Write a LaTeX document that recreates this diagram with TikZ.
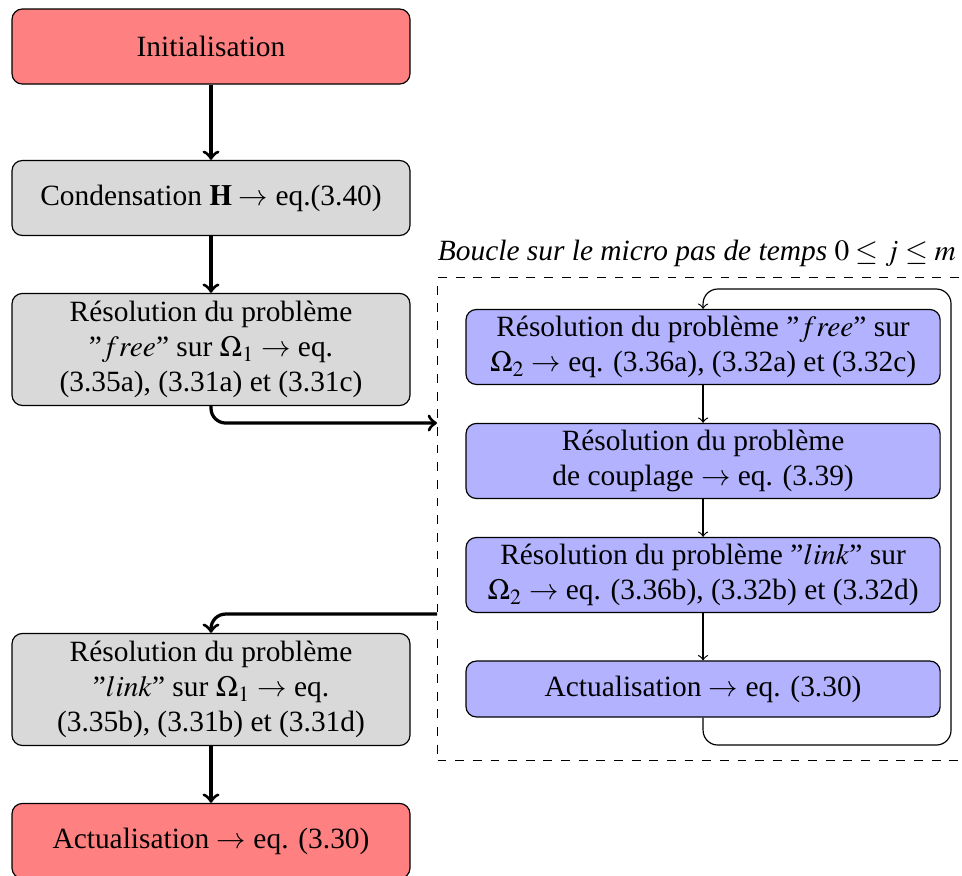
\documentclass[tikz,border=0pt]{standalone}
\usepackage{mathptmx}
\usepackage{fontspec}
\setmainfont{Liberation Serif}
\usetikzlibrary{shapes.geometric, arrows, positioning}

\begin{document}
\begin{tikzpicture}[node distance=51.5pt, x=0.34pt, y=-0.34pt]
\tikzstyle{redbox} = [rectangle, rounded corners=3.5pt, minimum width=135.3pt, minimum height=25.5pt, inner sep=2.5pt, align=center, draw=black, fill=red!50]
\tikzstyle{greybox} = [redbox, fill=gray!30]
\tikzstyle{bluebox} = [rectangle, rounded corners=3.5pt, minimum width=161.2pt, minimum height=19pt, inner sep=2.2pt, align=center, draw=black, fill=blue!30]
\tikzstyle{frame} = [rectangle, dashed, draw=black, inner sep=0pt, minimum width=180.5pt, minimum height=164.2pt]
\tikzstyle{arrow} = [line width=1.1pt,->,>=to]
\tikzstyle{smallarrow} = [thin,->,>=to]

\useasboundingbox (0,0) rectangle (962,875);

\node (init) [redbox] at (211,46.5) {Initialisation};
\node (cond) [greybox, below of=init] {Condensation $\mathbf{H} \rightarrow$ eq.(3.40)};
\node (free1) [greybox, below of=cond] {R\'esolution du probl\`eme\\ ''$free$'' sur $\Omega_1 \rightarrow$ eq.\\ (3.35a), (3.31a) et (3.31c)};
\node (link1) [greybox, below of=free1, yshift=-64.1pt] {R\'esolution du probl\`eme\\ ''$link$'' sur $\Omega_1 \rightarrow$ eq.\\ (3.35b), (3.31b) et (3.31d)};
\node (act1) [redbox, below of=link1] {Actualisation $\rightarrow$ eq. (3.30)};

% boucle micro pas de temps
\node (loopbox) [frame, anchor=north west] at (437,277) {};
\node (looplabel) [anchor=south east, font=\itshape, xshift=-1pt] at (loopbox.north east) {Boucle sur le micro pas de temps $0 \leq j \leq m$};

\node (b1) [bluebox, right of=free1, xshift=115.8pt, yshift=0.85pt] {R\'esolution du probl\`eme ''$free$'' sur\\ $\Omega_2 \rightarrow$ eq. (3.36a), (3.32a) et (3.32c)};
\node (b2) [bluebox, node distance=38.76pt, below of=b1] {R\'esolution du probl\`eme\\ de couplage $\rightarrow$ eq. (3.39)};
\node (b3) [bluebox, node distance=38.76pt, below of=b2] {R\'esolution du probl\`eme ''$link$'' sur\\ $\Omega_2 \rightarrow$ eq. (3.36b), (3.32b) et (3.32d)};
\node (b4) [bluebox, node distance=38.76pt, below of=b3] {Actualisation $\rightarrow$ eq. (3.30)};

\coordinate (loopin) at (437,423);
\coordinate (loopout) at (437,614);
\coordinate (loopbr) at (951,745);
\coordinate (looptr) at (951,289);

\draw [arrow] (init) -- (cond);
\draw [arrow] (cond) -- (free1);
\draw [arrow, rounded corners=5pt] (free1.south) |- (loopin);
\draw [arrow, rounded corners=5pt] (loopout) -| (link1.north);
\draw [arrow] (link1) -- (act1);

\draw [smallarrow] (b1) -- (b2);
\draw [smallarrow] (b2) -- (b3);
\draw [smallarrow] (b3) -- (b4);
\draw [smallarrow, rounded corners=5pt] (b4.south) |- (loopbr) -- (looptr) -| (b1.north);

\end{tikzpicture}
\end{document}
